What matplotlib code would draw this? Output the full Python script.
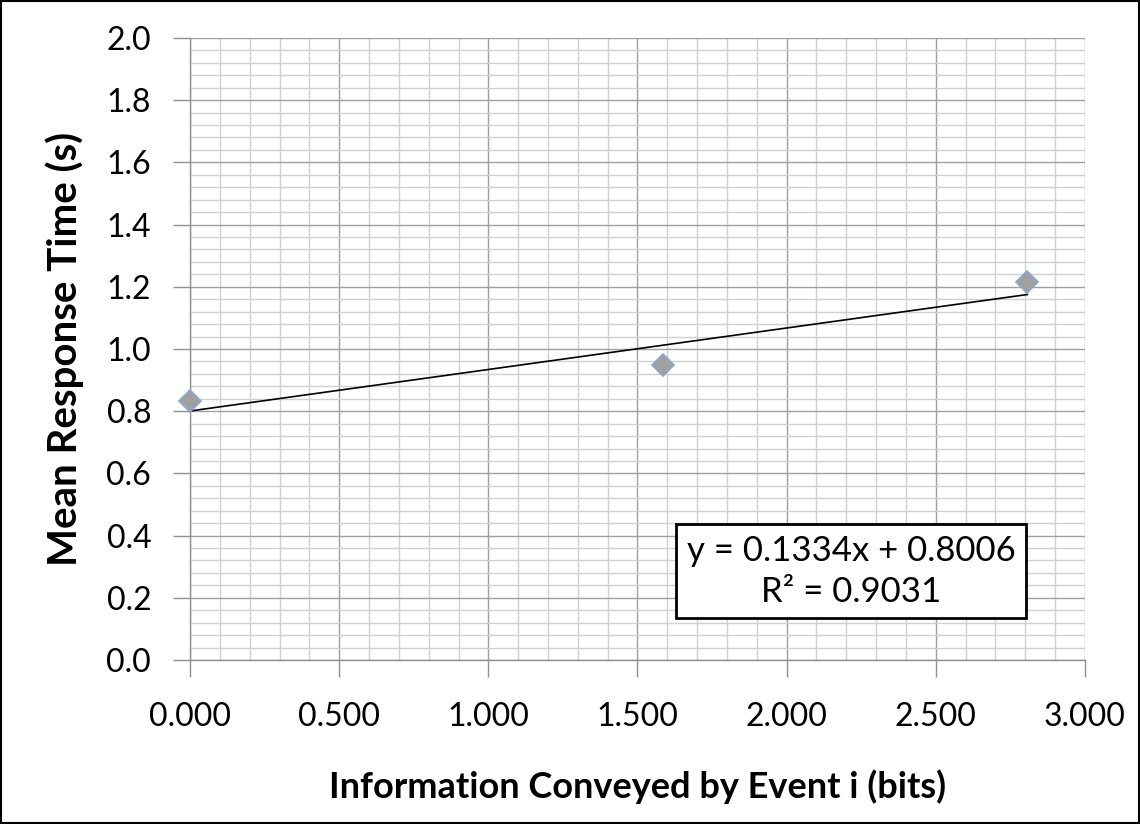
import matplotlib
matplotlib.use("Agg")
import matplotlib.pyplot as plt
from matplotlib.ticker import MultipleLocator, FormatStrFormatter
from matplotlib.patches import Rectangle
import numpy as np

plt.rcParams['font.family'] = ['Lato', 'DejaVu Sans']

# Data
info_bits = [0.0, 1.585, 2.807]
mean_rt = [0.832, 0.947, 1.216]
slope = 0.1334
intercept = 0.8006
r2 = 0.9031
xlabel = "Information Conveyed by Event i (bits)"
ylabel = "Mean Response Time (s)"

fig = plt.figure(figsize=(11.4, 8.24), dpi=100)
fig.patches.append(Rectangle((0.001, 0.001), 0.998, 0.998, transform=fig.transFigure,
                             fill=False, edgecolor='black', linewidth=1.5))
ax = fig.add_axes([0.1667, 0.199, 0.785, 0.755])

ax.set_xlim(0, 3.0)
ax.set_ylim(0, 2.0)
ax.xaxis.set_major_locator(MultipleLocator(0.5))
ax.xaxis.set_minor_locator(MultipleLocator(0.1))
ax.yaxis.set_major_locator(MultipleLocator(0.2))
ax.yaxis.set_minor_locator(MultipleLocator(0.04))
ax.xaxis.set_major_formatter(FormatStrFormatter('%.3f'))
ax.yaxis.set_major_formatter(FormatStrFormatter('%.1f'))

ax.grid(which='minor', color='#d0d0d0', linewidth=1.0)
ax.grid(which='major', color='#a0a0a0', linewidth=1.0)
ax.set_axisbelow(True)

for s in ['top', 'right']:
    ax.spines[s].set_visible(False)
for s in ['left', 'bottom']:
    ax.spines[s].set_color('#909090')
    ax.spines[s].set_linewidth(1.0)

ax.tick_params(which='major', length=12, width=1, color='#909090', labelsize=23, labelcolor='black')
ax.tick_params(axis='y', which='major', pad=16)
ax.tick_params(axis='x', which='major', pad=18)
ax.tick_params(which='minor', length=0)

xs = np.array([min(info_bits), max(info_bits)])
ax.plot(xs, slope * xs + intercept, color='black', linewidth=1.2, zorder=3)
ax.plot(info_bits, mean_rt, linestyle='none', marker='D', markersize=11,
        markerfacecolor='#a0a0a0', markeredgecolor='#8aa6d0', markeredgewidth=1.2,
        zorder=4, clip_on=False)

ax.text(2.216, 0.286, f"y = {slope:.4f}x + {intercept:.4f}\nR² = {r2:.4f}",
        ha='center', va='center', fontsize=25, linespacing=1.35,
        bbox=dict(boxstyle='square,pad=0.3', facecolor='white', edgecolor='black', linewidth=2),
        zorder=5)

ax.set_xlabel(xlabel, fontsize=26, fontweight='bold', labelpad=27)
ax.set_ylabel(ylabel, fontsize=29, fontweight='bold', labelpad=16)

fig.savefig("out.png", dpi=100)
